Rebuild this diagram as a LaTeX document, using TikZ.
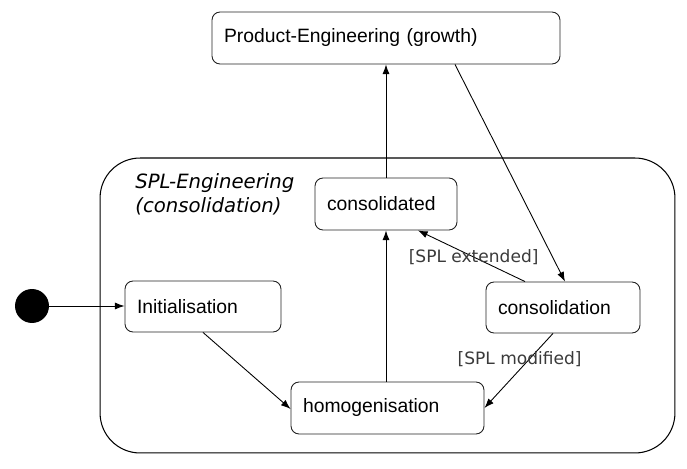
\documentclass[tikz,border=0pt]{standalone}
\usepackage{fontspec}
\setmainfont{Liberation Sans}
\newfontfamily\guardfont{DejaVu Sans}
\usepackage{xcolor}
\usetikzlibrary{arrows.meta}
\definecolor{StateInk}{HTML}{222222}
\definecolor{GuardInk}{HTML}{3A3A3A}

\begin{document}
\begin{tikzpicture}[
  x=0.02cm,y=-0.02cm,
  font=\fontsize{11}{13}\selectfont,
  statebox/.style={draw=StateInk,line width=0.5pt,rounded corners=1.6mm,fill=white,
                   align=left,inner xsep=0.24cm,inner ysep=0pt,minimum height=1.04cm},
  composite/.style={draw=black,line width=0.6pt,rounded corners=0.8cm,
                    minimum width=11.5cm,minimum height=5.9cm},
  guard/.style={font=\guardfont\fontsize{9.7}{12}\selectfont,text=GuardInk,inner sep=1pt},
  flow/.style={draw=black,line width=0.5pt,-{Latex[length=5.5pt,width=4pt]}},
]
  \useasboundingbox (0,0) rectangle (687,469);

  \node[composite] (spl) at (387.5,305.5) {};
  \node[anchor=north west,inner sep=0pt,align=left,
        font=\guardfont\itshape\fontsize{11.2}{13.5}\selectfont] (spltitle) at (135,173)
    {SPL-Engineering\\(consolidation)};

  \node[statebox,text width=6.48cm] (prod) at (386,38) {Product-Engineering (growth)};
  \node[statebox,text width=2.36cm] (consolidated) at (386,204) {consolidated};
  \node[statebox,text width=2.64cm,minimum height=1.02cm] (init) at (203,306.5) {Initialisation};
  \node[statebox,text width=2.60cm,minimum height=1.02cm] (consolidation) at (563,307.5) {consolidation};
  \node[statebox,text width=3.38cm] (homog) at (387.5,408) {homogenisation};
  \node[circle,fill=black,minimum size=0.68cm,inner sep=0pt] (start) at (32,306) {};

  \draw[flow] (start) -- (init.west |- start);
  \draw[flow] (consolidated.north) -- (prod.south -| consolidated.north);
  \draw[flow] ([xshift=1.38cm]prod.south) -- ([xshift=0.04cm]consolidation.north);
  \draw[flow] ([xshift=-0.76cm]consolidation.north) -- ([xshift=0.64cm]consolidated.south)
    node[guard,pos=0.48] (extended) {[SPL extended]};
  \draw[flow] (homog.north -| consolidated.south) -- (consolidated.south);
  \draw[flow] (init.south) -- ([yshift=-0.02cm]homog.west);
  \draw[flow] ([xshift=-0.2cm]consolidation.south) -- (homog.east)
    node[guard,pos=0.34,xshift=-0.2cm] (modified) {[SPL modified]};
\end{tikzpicture}
\end{document}
